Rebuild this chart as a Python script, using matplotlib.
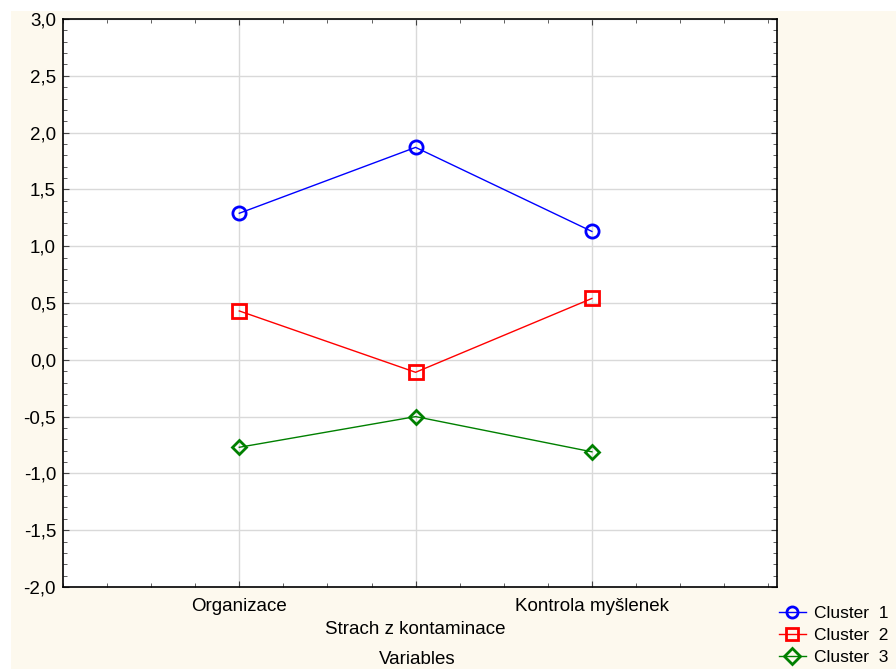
import matplotlib.pyplot as plt
import matplotlib.patches as mpatches
from matplotlib.ticker import FuncFormatter, MultipleLocator

plt.rcParams['font.family'] = ['Liberation Sans', 'DejaVu Sans']

variables = ['Organizace', 'Strach z kontaminace', 'Kontrola myšlenek']
cluster_1 = [1.29, 1.87, 1.13]
cluster_2 = [0.43, -0.11, 0.54]
cluster_3 = [-0.77, -0.50, -0.81]


def main():
    fig = plt.figure(figsize=(8.96, 6.69), dpi=100)
    fig.patch.set_facecolor('white')
    # krémové pozadí jako ve Statistice
    fig.patches.append(mpatches.Rectangle((11 / 896, 0), 1, 1 - 11 / 669,
                                          transform=fig.transFigure,
                                          facecolor='#fdf9ee', edgecolor='none', zorder=-10))

    ax = fig.add_axes([63 / 896, 1 - 587 / 669, 714 / 896, 568 / 669])
    ax.set_facecolor('white')

    x = [1, 2, 3]
    ax.plot(x, cluster_1, color='#0000ff', lw=1, marker='o', ms=9.5, mfc='none', mew=2, label='Cluster  1')
    ax.plot(x, cluster_2, color='#ff0000', lw=1, marker='s', ms=9.5, mfc='none', mew=2, label='Cluster  2')
    ax.plot(x, cluster_3, color='#008000', lw=1, marker='D', ms=7, mfc='none', mew=2, label='Cluster  3')

    ax.set_xlim(0, 4.05)
    ax.set_ylim(-2, 3)
    ax.yaxis.set_major_locator(MultipleLocator(0.5))
    ax.yaxis.set_minor_locator(MultipleLocator(0.1))
    ax.xaxis.set_minor_locator(MultipleLocator(0.25))
    ax.yaxis.set_major_formatter(FuncFormatter(lambda v, p: f'{v:.1f}'.replace('.', ',')))
    ax.set_xticks(x)
    ax.set_xticklabels(['', '', ''])
    ax.tick_params(which='both', direction='in', top=True, right=True, labelsize=13.5, color='#444444')
    ax.tick_params(which='major', length=4)
    ax.tick_params(which='minor', length=3)
    ax.tick_params(axis='y', pad=5)
    ax.grid(True, which='major', color='#d9d9d9', lw=1)
    ax.set_axisbelow(True)
    for s in ax.spines.values():
        s.set_linewidth(1.2)

    # popisky osy x střídavě ve dvou řadách
    for i, name in enumerate(variables):
        yoff = -0.035 if i % 2 == 0 else -0.075
        ax.text(x[i], yoff, name, transform=ax.get_xaxis_transform(),
                ha='center', va='center', fontsize=13.5)
    fig.text(417 / 896, 1 - 660 / 669, 'Variables', ha='center', va='center', fontsize=13.5)

    leg = fig.legend(loc='upper left', bbox_to_anchor=(779 / 896, 1 - 606 / 669), frameon=False,
                     fontsize=12.5, handlelength=1.55, labelspacing=0.4, borderaxespad=0,
                     handletextpad=0.45, borderpad=0)
    for h in leg.legend_handles:
        h.set_markersize(8)

    fig.savefig('out.png', dpi=100, facecolor=fig.get_facecolor())


if __name__ == '__main__':
    main()
